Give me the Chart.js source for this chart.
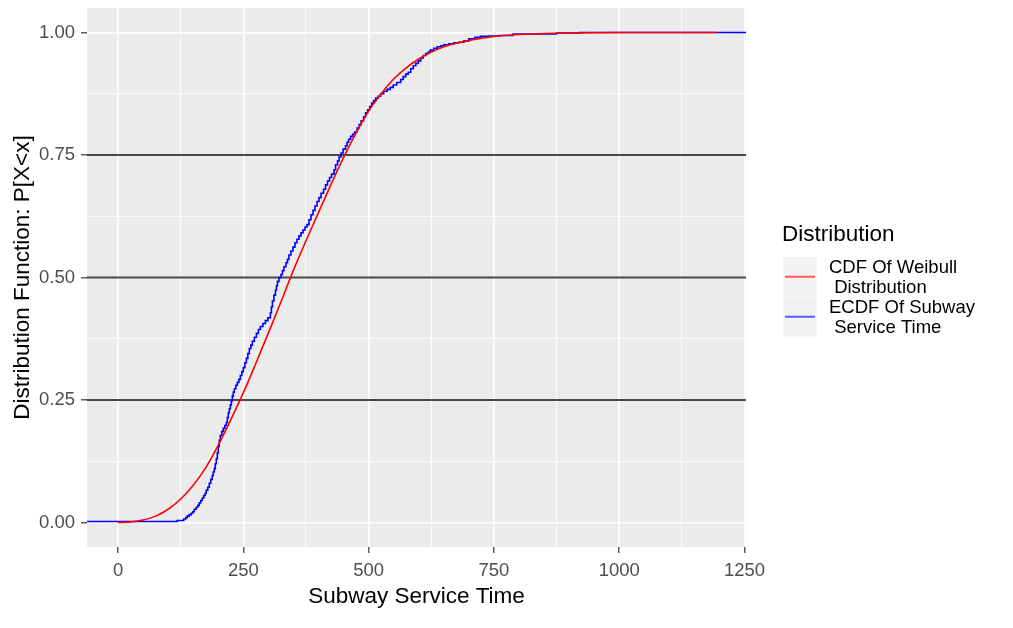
<!DOCTYPE html>
<html>
<head>
<meta charset="utf-8">
<script src="https://cdn.jsdelivr.net/npm/chart.js@4/dist/chart.umd.min.js"></script>
<style>
  html, body { margin: 0; padding: 0; background: #ffffff; }
  #wrap { width: 1013px; height: 628px; }
</style>
</head>
<body>
<div id="wrap"><canvas id="cdf" width="1013" height="628"></canvas></div>
<script>
// Fitted Weibull CDF, sampled along the service-time axis
const weibullX = [0, 25, 50, 75, 100, 125, 150, 175, 200, 225, 250, 275, 300, 325, 350, 375, 400, 425, 450, 475, 500, 525, 550, 575, 600, 625, 650, 675, 700, 750, 800, 850, 900, 1000, 1195];
const weibullY = [0, 0.001, 0.005, 0.013, 0.027, 0.048, 0.076, 0.112, 0.158, 0.210, 0.265, 0.325, 0.387, 0.450, 0.515, 0.575, 0.633, 0.690, 0.745, 0.795, 0.840, 0.875, 0.905, 0.928, 0.946, 0.960, 0.971, 0.978, 0.984, 0.992, 0.996, 0.998, 0.999, 1.000, 1.000];

// Empirical CDF of subway service time (jump points; first/last stand in for -Inf/+Inf)
const ecdfX = [-70, 118, 131, 135, 138, 142, 146, 149, 152, 156, 159, 162, 165, 168, 171, 174, 176, 179, 182, 185, 188, 190, 192, 194, 196, 198, 200, 202, 204, 207, 210, 213, 216, 218, 220, 222, 224, 226, 228, 230, 232, 235, 238, 241, 244, 247, 250, 253, 256, 259, 262, 265, 268, 272, 276, 280, 284, 289, 294, 299, 304, 306, 308, 311, 314, 316, 318, 321, 325, 328, 331, 335, 338, 341, 345, 349, 353, 357, 361, 365, 369, 373, 377, 381, 385, 389, 393, 397, 401, 405, 410, 414, 418, 422, 426, 431, 434, 438, 441, 445, 449, 454, 457, 460, 464, 468, 472, 477, 481, 485, 490, 494, 498, 502, 506, 510, 514, 519, 524, 530, 537, 543, 549, 556, 564, 569, 574, 579, 584, 589, 594, 599, 604, 609, 614, 619, 623, 630, 637, 644, 650, 660, 670, 680, 690, 700, 712, 723, 740, 760, 788, 875, 920, 1195, 1300];
const ecdfY = [0, 0.002, 0.004, 0.007, 0.010, 0.013, 0.016, 0.019, 0.022, 0.027, 0.031, 0.035, 0.040, 0.045, 0.050, 0.055, 0.060, 0.066, 0.072, 0.080, 0.088, 0.096, 0.103, 0.110, 0.120, 0.130, 0.142, 0.155, 0.168, 0.178, 0.186, 0.192, 0.198, 0.204, 0.214, 0.224, 0.232, 0.240, 0.248, 0.258, 0.266, 0.273, 0.280, 0.286, 0.292, 0.300, 0.308, 0.316, 0.326, 0.335, 0.345, 0.355, 0.362, 0.370, 0.378, 0.386, 0.394, 0.400, 0.406, 0.412, 0.418, 0.428, 0.440, 0.452, 0.464, 0.474, 0.483, 0.492, 0.500, 0.506, 0.514, 0.522, 0.530, 0.537, 0.546, 0.554, 0.562, 0.571, 0.578, 0.585, 0.591, 0.597, 0.603, 0.608, 0.618, 0.628, 0.637, 0.646, 0.655, 0.663, 0.672, 0.680, 0.689, 0.697, 0.704, 0.711, 0.720, 0.730, 0.738, 0.746, 0.754, 0.762, 0.769, 0.776, 0.782, 0.788, 0.792, 0.797, 0.805, 0.812, 0.820, 0.828, 0.836, 0.842, 0.849, 0.856, 0.861, 0.866, 0.870, 0.875, 0.880, 0.884, 0.888, 0.893, 0.898, 0.904, 0.910, 0.915, 0.919, 0.926, 0.932, 0.937, 0.942, 0.948, 0.953, 0.957, 0.960, 0.964, 0.968, 0.971, 0.973, 0.975, 0.977, 0.979, 0.980, 0.983, 0.987, 0.990, 0.992, 0.993, 0.994, 0.997, 0.999, 1.000, 1.000];

// Axis ticks (labelled majors and unlabelled minors)
const xTickValues = [0, 250, 500, 750, 1000, 1250];
const xMinorTicks = [125, 375, 625, 875, 1125];
const yTickValues = [0, 0.25, 0.5, 0.75, 1];
const yMinorTicks = [0.125, 0.375, 0.625, 0.875];

// Reference levels drawn across the panel
const refLineValues = [0.25, 0.5, 0.75];

const seriesLabels = [['CDF Of Weibull', ' Distribution'], ['ECDF Of Subway', ' Service Time']];
const seriesColors = ['#FF0000', '#0000FF'];
const legendKeyColors = ['#FF5A5A', '#5A5AFF'];
const legendTitle = 'Distribution';
const xTitle = 'Subway Service Time';
const yTitle = 'Distribution Function: P[X<x]';

const FONT = '"Liberation Sans", Arial, sans-serif';

const zip = (xs, ys) => xs.map((x, i) => ({ x: x, y: ys[i] }));

const panelBackground = {
  id: 'panelBackground',
  beforeDraw(chart) {
    const { ctx, chartArea: a } = chart;
    ctx.save();
    ctx.fillStyle = '#FFFFFF';
    ctx.fillRect(0, 0, chart.width, chart.height);
    ctx.fillStyle = '#EBEBEB';
    ctx.fillRect(a.left, a.top, a.right - a.left, a.bottom - a.top);
    ctx.restore();
  }
};

const referenceLines = {
  id: 'referenceLines',
  beforeDatasetsDraw(chart) {
    const { ctx, chartArea: a, scales } = chart;
    ctx.save();
    ctx.strokeStyle = 'rgba(40,40,40,0.85)';
    ctx.lineWidth = 2.2;
    refLineValues.forEach(v => {
      const py = scales.y.getPixelForValue(v);
      ctx.beginPath();
      ctx.moveTo(a.left, py);
      ctx.lineTo(a.right, py);
      ctx.stroke();
    });
    ctx.restore();
  }
};

const sideLegend = {
  id: 'sideLegend',
  afterDraw(chart) {
    const ctx = chart.ctx;
    ctx.save();
    ctx.textBaseline = 'middle';
    ctx.textAlign = 'left';
    ctx.fillStyle = '#000000';
    ctx.font = '22.5px ' + FONT;
    ctx.fillText(legendTitle, 782, 235);
    const keyX = 783, keyW = 34, keyH = 39.5, keyTop = 257;
    ctx.font = '18.5px ' + FONT;
    seriesLabels.forEach((lines, i) => {
      const top = keyTop + i * 40;
      ctx.fillStyle = '#F2F2F2';
      ctx.fillRect(keyX, top, keyW, keyH);
      ctx.strokeStyle = legendKeyColors[i];
      ctx.lineWidth = 2;
      ctx.beginPath();
      ctx.moveTo(keyX + 2, top + keyH / 2);
      ctx.lineTo(keyX + keyW - 2, top + keyH / 2);
      ctx.stroke();
      ctx.fillStyle = '#000000';
      lines.forEach((t, j) => {
        ctx.fillText(t, 829, top + 11 + j * 20);
      });
    });
    ctx.restore();
  }
};

const isMinor = (list, v) => list.some(m => Math.abs(m - v) < 1e-9);

new Chart(document.getElementById('cdf'), {
  type: 'line',
  data: {
    datasets: [
      {
        label: seriesLabels[0].join(''),
        data: zip(weibullX, weibullY),
        borderColor: seriesColors[0],
        borderWidth: 1.6,
        pointRadius: 0,
        fill: false,
        cubicInterpolationMode: 'monotone'
      },
      {
        label: seriesLabels[1].join(''),
        data: zip(ecdfX, ecdfY),
        borderColor: seriesColors[1],
        borderWidth: 1.6,
        pointRadius: 0,
        fill: false,
        stepped: 'after'
      }
    ]
  },
  options: {
    responsive: false,
    animation: false,
    devicePixelRatio: 1,
    layout: { padding: { top: 8, right: 267, bottom: 0, left: 0 } },
    plugins: {
      legend: { display: false },
      tooltip: { enabled: false }
    },
    scales: {
      x: {
        type: 'linear',
        min: -62,
        max: 1253,
        afterBuildTicks(scale) {
          scale.ticks = xTickValues.concat(xMinorTicks).sort((a, b) => a - b).map(v => ({ value: v }));
        },
        afterFit(scale) {
          scale.height = 81;
          scale.paddingLeft = 0;
          scale.paddingRight = 0;
        },
        border: { display: false },
        grid: {
          color: '#FFFFFF',
          lineWidth: ctx => (ctx.tick && isMinor(xMinorTicks, ctx.tick.value)) ? 0.8 : 1.6,
          tickColor: ctx => (ctx.tick && isMinor(xMinorTicks, ctx.tick.value)) ? 'rgba(0,0,0,0)' : '#333333',
          tickLength: 6,
          tickWidth: 1.2
        },
        ticks: {
          autoSkip: false,
          maxRotation: 0,
          padding: 7,
          color: '#4D4D4D',
          font: { family: FONT, size: 18.5 },
          callback: v => xTickValues.includes(v) ? String(v) : ''
        },
        title: {
          display: true,
          text: xTitle,
          color: '#000000',
          font: { family: FONT, size: 22.5 },
          padding: { top: 0, bottom: 17.5 }
        }
      },
      y: {
        type: 'linear',
        min: -0.05,
        max: 1.05,
        afterBuildTicks(scale) {
          scale.ticks = yTickValues.concat(yMinorTicks).sort((a, b) => a - b).map(v => ({ value: v }));
        },
        afterFit(scale) {
          scale.width = 87;
          scale.paddingTop = 0;
          scale.paddingBottom = 0;
        },
        border: { display: false },
        grid: {
          color: '#FFFFFF',
          lineWidth: ctx => (ctx.tick && isMinor(yMinorTicks, ctx.tick.value)) ? 0.8 : 1.6,
          tickColor: ctx => (ctx.tick && isMinor(yMinorTicks, ctx.tick.value)) ? 'rgba(0,0,0,0)' : '#333333',
          tickLength: 6,
          tickWidth: 1.2
        },
        ticks: {
          autoSkip: false,
          padding: 6,
          color: '#4D4D4D',
          font: { family: FONT, size: 18.5 },
          callback: v => isMinor(yMinorTicks, v) ? '' : v.toFixed(2)
        },
        title: {
          display: true,
          text: yTitle,
          color: '#000000',
          font: { family: FONT, size: 22.5 },
          padding: { top: 9, bottom: 0 }
        }
      }
    }
  },
  plugins: [panelBackground, referenceLines, sideLegend]
});
</script>
</body>
</html>
